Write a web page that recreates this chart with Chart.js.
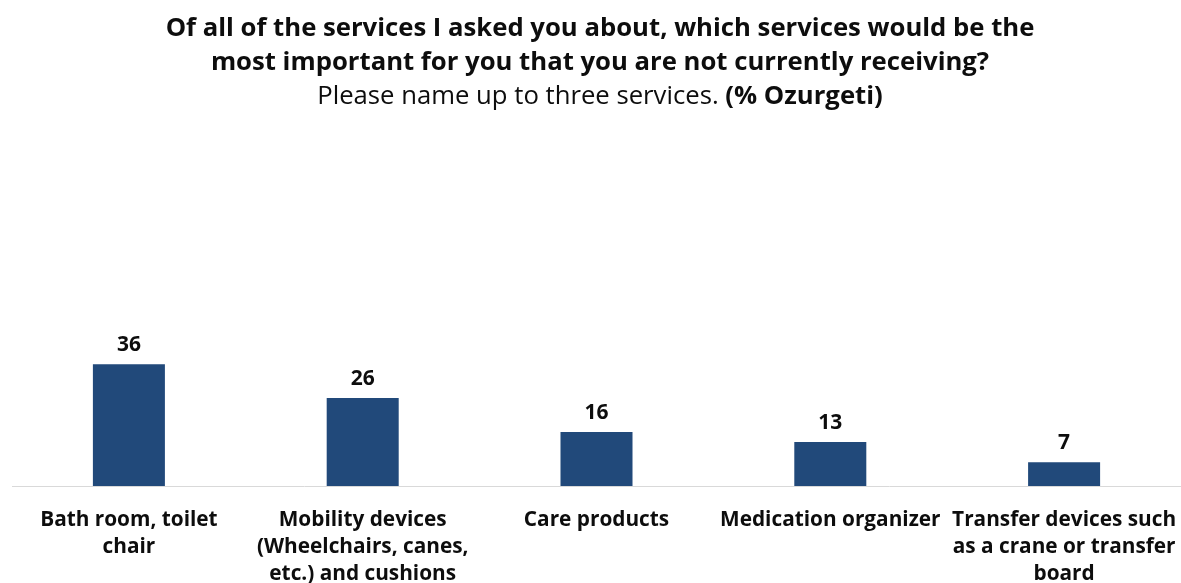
<!DOCTYPE html>
<html>
<head>
<meta charset="utf-8">
<script src="https://cdn.jsdelivr.net/npm/chart.js@4/dist/chart.umd.min.js"></script>
<style>
  html, body { margin: 0; padding: 0; background: #fff; }
  #wrap { position: relative; width: 1181px; height: 583px; overflow: hidden; }
  #chart { position: absolute; left: 0; top: 0; }
  .head {
    position: absolute; left: 19px; top: 10px; width: 1162px;
    text-align: center; font-family: "Open Sans", sans-serif;
    font-size: 25.7px; line-height: 34px; color: #0d0d0d;
  }
  .head b { font-weight: 700; }
</style>
</head>
<body>
<div id="wrap">
  <canvas id="chart" width="1181" height="583"></canvas>
  <div class="head">
    <b>Of all of the services I asked you about, which services would be the</b><br>
    <b>most important for you that you are not currently receiving?</b><br>
    Please name up to three services. <b>(% Ozurgeti)</b>
  </div>
</div>
<script>
const categories = [
  ['Bath room, toilet', 'chair'],
  ['Mobility devices', '(Wheelchairs, canes,', 'etc.) and cushions'],
  ['Care products'],
  ['Medication organizer'],
  ['Transfer devices such', 'as a crane or transfer', 'board']
];
const values = [36, 26, 16, 13, 7];

// value labels above each bar
const barLabels = {
  id: 'barLabels',
  afterDatasetsDraw(chart) {
    const ctx = chart.ctx;
    const meta = chart.getDatasetMeta(0);
    ctx.save();
    ctx.font = 'bold 21px "Open Sans"';
    ctx.fillStyle = '#0d0d0d';
    ctx.textAlign = 'center';
    ctx.textBaseline = 'middle';
    meta.data.forEach((bar, i) => {
      ctx.fillText(String(values[i]), bar.x, bar.y - 19);
    });
    ctx.restore();
  }
};

new Chart(document.getElementById('chart'), {
  type: 'bar',
  data: {
    labels: categories,
    datasets: [{
      data: values,
      backgroundColor: '#21497A',
      categoryPercentage: 1,
      barPercentage: 0.308
    }]
  },
  options: {
    responsive: false,
    animation: false,
    layout: { padding: { top: 148, left: 12, right: 0, bottom: 0 } },
    plugins: {
      legend: { display: false },
      tooltip: { enabled: false }
    },
    scales: {
      x: {
        grid: { display: false, drawTicks: false },
        border: { display: true, color: '#D9D9D9', width: 1 },
        ticks: {
          color: '#0d0d0d',
          font: { family: 'Open Sans', size: 20.8, weight: 'bold', lineHeight: 1.31 },
          padding: 20,
          maxRotation: 0,
          autoSkip: false
        },
        afterFit(scale) {
          // keep the axis full width; wide end labels may overhang
          scale.height = 97;
          scale.paddingLeft = 0;
          scale.paddingRight = 0;
        }
      },
      y: {
        display: false,
        min: 0,
        max: 100
      }
    }
  },
  plugins: [barLabels]
});
</script>
</body>
</html>
